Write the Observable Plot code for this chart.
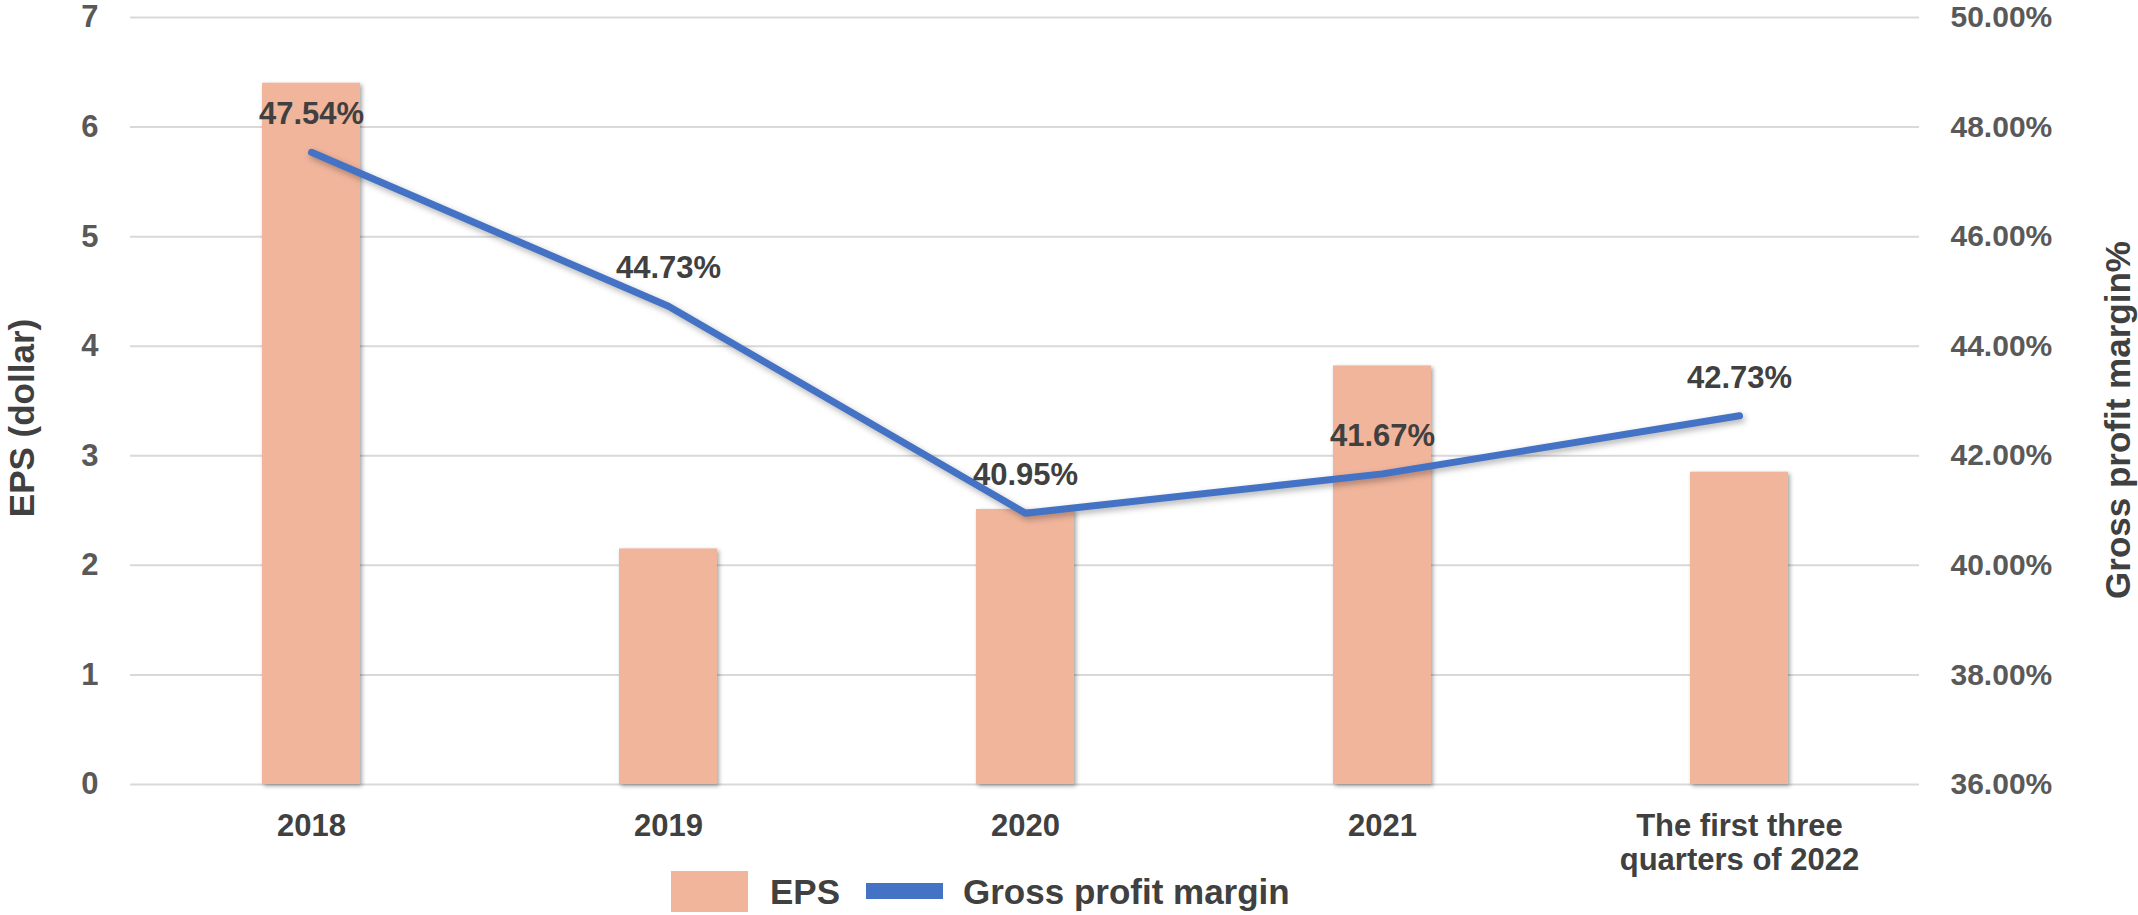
<!DOCTYPE html>
<html>
<head>
<meta charset="utf-8">
<script src="https://cdn.jsdelivr.net/npm/d3@7"></script>
<script src="https://cdn.jsdelivr.net/npm/@observablehq/plot@0.6"></script>
<style>
  html, body { margin: 0; padding: 0; background: #fff; }
  body { position: relative; width: 2138px; height: 915px; overflow: hidden; font-family: "Liberation Sans", Arial, sans-serif; }
  #chart svg { display: block; }
  #chart g[aria-label="bar"] rect { filter: drop-shadow(2px 2px 2px rgba(0,0,0,0.35)); }
  #chart g[aria-label="line"] path { filter: drop-shadow(2px 3px 3px rgba(0,0,0,0.3)); }
  #legend { position: absolute; left: 0; top: 862px; width: 2138px; height: 53px; }
  #legend .sw { position: absolute; }
  #legend .lt { position: absolute; top: 29px; transform: translateY(-50%); font-size: 35px; font-weight: bold; color: #404040; white-space: nowrap; line-height: 1; }
</style>
</head>
<body>
<div id="chart"></div>
<div id="legend"></div>
<script>
// ---- data ----
const categories = ["2018", "2019", "2020", "2021", "The first three\nquarters of 2022"];
const eps = [6.40, 2.15, 2.51, 3.82, 2.85];
const grossMargin = [47.54, 44.73, 40.95, 41.67, 42.73];
const epsTicks = [0, 1, 2, 3, 4, 5, 6, 7];
const marginTicks = [36, 38, 40, 42, 44, 46, 48, 50];
const seriesNames = ["EPS", "Gross profit margin"];
const leftTitle = "EPS (dollar)";
const rightTitle = "Gross profit margin%";

// ---- secondary axis mapping (margin % -> EPS scale units) ----
const epsDomain = [0, 7];
const marginDomain = [36, 50];
const toEps = p => (p - marginDomain[0]) / (marginDomain[1] - marginDomain[0]) * (epsDomain[1] - epsDomain[0]);
const fromEps = y => marginDomain[0] + y / (epsDomain[1] - epsDomain[0]) * (marginDomain[1] - marginDomain[0]);

const data = categories.map((c, i) => ({
  category: c, eps: eps[i], margin: grossMargin[i], marginY: toEps(grossMargin[i])
}));

const barColor = "#f1b59c";
const lineColor = "#4472c4";

const chart = Plot.plot({
  width: 2138,
  height: 884,
  marginLeft: 130,
  marginRight: 219,
  marginTop: 17,
  marginBottom: 100,
  style: { fontFamily: "'Liberation Sans', Arial, sans-serif", background: "#fff" },
  x: { domain: categories, paddingInner: 0.726, paddingOuter: 0.363, label: null },
  y: { domain: epsDomain, label: null },
  marks: [
    Plot.gridY(epsTicks, { stroke: "#d9d9d9", strokeOpacity: 1, strokeWidth: 2 }),
    Plot.barY(data, { x: "category", y: "eps", fill: barColor }),
    Plot.line(data, { x: "category", y: "marginY", stroke: lineColor, strokeWidth: 7, strokeLinecap: "round", strokeLinejoin: "round" }),
    Plot.text(data, { x: "category", y: "marginY", text: d => d.margin.toFixed(2) + "%", dy: -38, fontSize: 31, fontWeight: "bold", fill: "#404040" }),
    Plot.axisY(epsTicks, { anchor: "left", tickSize: 0, tickPadding: 32, tickFormat: d => String(d), fontSize: 31, fontWeight: "bold", fill: "#595959", label: null }),
    Plot.axisY(marginTicks.map(toEps), { anchor: "right", tickSize: 0, tickPadding: 31, tickFormat: d => fromEps(d).toFixed(2) + "%", fontSize: 30, fontWeight: "bold", fill: "#595959", label: null }),
    Plot.axisX({ tickSize: 0, tickPadding: 27, fontSize: 31, fontWeight: "bold", fill: "#404040", lineHeight: 1.1, label: null }),
    Plot.text([leftTitle], { frameAnchor: "left", dx: -108, dy: 17, rotate: -90, textAnchor: "middle", lineAnchor: "middle", fontSize: 35, fontWeight: "bold", fill: "#404040" }),
    Plot.text([rightTitle], { frameAnchor: "right", dx: 199, dy: 19, rotate: -90, textAnchor: "middle", lineAnchor: "middle", fontSize: 35, fontWeight: "bold", fill: "#404040" })
  ]
});
document.getElementById("chart").appendChild(chart);

// ---- legend (HTML, below the plot area) ----
const legend = document.getElementById("legend");
const items = [
  { name: seriesNames[0], sw: { left: 671, top: 9, width: 77, height: 41, bg: barColor }, textLeft: 770 },
  { name: seriesNames[1], sw: { left: 866, top: 21, width: 77, height: 16, bg: lineColor }, textLeft: 963 }
];
for (const it of items) {
  const s = document.createElement("span");
  s.className = "sw";
  Object.assign(s.style, { left: it.sw.left + "px", top: it.sw.top + "px", width: it.sw.width + "px", height: it.sw.height + "px", background: it.sw.bg });
  legend.appendChild(s);
  const t = document.createElement("span");
  t.className = "lt";
  t.style.left = it.textLeft + "px";
  t.textContent = it.name;
  legend.appendChild(t);
}
</script>
</body>
</html>
